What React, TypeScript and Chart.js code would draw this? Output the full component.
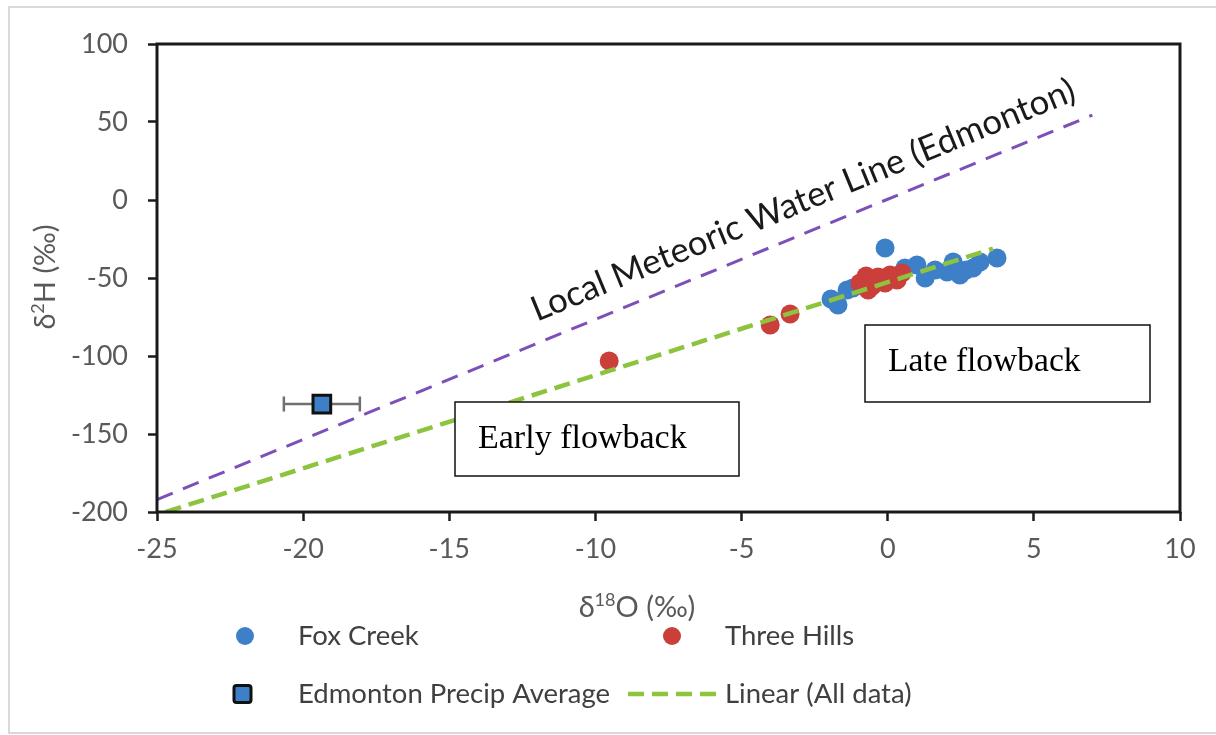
import React, { useEffect, useRef } from "react";
import { Chart, registerables } from "chart.js";

Chart.register(...registerables);

// ---- data ----
const foxCreekX = [-0.09, -1.94, -1.7, -1.19, -1.39, 1.0, 1.28, 1.62, 2.03, 2.24, 2.47, 2.68, 2.92, 3.16, 3.74, 0.59];
const foxCreekY = [-30.8, -63.5, -67.3, -56.4, -57.7, -41.7, -50.0, -44.9, -46.2, -39.7, -48.1, -44.9, -43.6, -39.7, -37.2, -43.6];

const threeHillsX = [-9.53, -4.02, -3.34, -0.95, -0.74, -0.53, -0.33, -0.09, 0.08, 0.32, 0.49, -0.67];
const threeHillsY = [-103.2, -80.1, -73.1, -53.2, -48.7, -55.1, -49.4, -53.2, -48.1, -51.3, -46.8, -57.7];

const edmontonX = [-19.36];
const edmontonY = [-130.8];
const edmontonXErr = [1.3];

const trendX = [-24.7, 3.6];
const trendY = [-200, -31.2];

const lmwlX = [-25, 7];
const lmwlY = [-192, 54.4];

const xTicks = [-25, -20, -15, -10, -5, 0, 5, 10];
const yTicks = [-200, -150, -100, -50, 0, 50, 100];

const seriesNames = ["Fox Creek", "Three Hills", "Edmonton Precip Average", "Linear (All data)"];
const lmwlLabel = "Local Meteoric Water Line (Edmonton)";
const earlyLabel = "Early flowback";
const lateLabel = "Late flowback";

// ---- styles ----
const BLUE = "#3e80c8";
const RED = "#cb3f3b";
const GREEN = "#8cc43f";
const PURPLE = "#7b50b8";
const AXIS_TEXT = "#595959";
const SANS = "Lato, 'Open Sans', sans-serif";
const SERIF = "'Liberation Serif', 'Times New Roman', serif";

const pts = (xs: number[], ys: number[]) => xs.map((x, i) => ({ x, y: ys[i] }));

function drawSupText(
  ctx: CanvasRenderingContext2D,
  parts: { t: string; sup?: boolean }[],
  cx: number,
  cy: number,
  size: number
) {
  const supSize = Math.round(size * 0.62);
  let w = 0;
  const widths = parts.map((p) => {
    ctx.font = `${p.sup ? supSize : size}px ${SANS}`;
    const m = ctx.measureText(p.t).width;
    w += m;
    return m;
  });
  let x = cx - w / 2;
  ctx.textBaseline = "alphabetic";
  ctx.textAlign = "left";
  const base = cy + size * 0.35;
  parts.forEach((p, i) => {
    ctx.font = `${p.sup ? supSize : size}px ${SANS}`;
    ctx.fillText(p.t, x, p.sup ? base - size * 0.38 : base);
    x += widths[i];
  });
}

function roundRect(ctx: CanvasRenderingContext2D, x: number, y: number, w: number, h: number, r: number) {
  ctx.beginPath();
  ctx.moveTo(x + r, y);
  ctx.lineTo(x + w - r, y);
  ctx.quadraticCurveTo(x + w, y, x + w, y + r);
  ctx.lineTo(x + w, y + h - r);
  ctx.quadraticCurveTo(x + w, y + h, x + w - r, y + h);
  ctx.lineTo(x + r, y + h);
  ctx.quadraticCurveTo(x, y + h, x, y + h - r);
  ctx.lineTo(x, y + r);
  ctx.quadraticCurveTo(x, y, x + r, y);
  ctx.closePath();
}

const decorPlugin = {
  id: "decor",
  beforeDraw(chart: any) {
    const ctx = chart.ctx as CanvasRenderingContext2D;
    ctx.save();
    ctx.fillStyle = "#ffffff";
    ctx.fillRect(0, 0, chart.width, chart.height);
    ctx.strokeStyle = "#d9d9d9";
    ctx.lineWidth = 2;
    ctx.strokeRect(9, 7, chart.width + 20, chart.height - 9);
    ctx.restore();
  },
  beforeDatasetsDraw(chart: any) {
    const ctx = chart.ctx as CanvasRenderingContext2D;
    const xs = chart.scales.x;
    const ys = chart.scales.y;
    ctx.save();
    ctx.strokeStyle = "#707070";
    ctx.lineWidth = 2.5;
    edmontonX.forEach((x, i) => {
      const x1 = xs.getPixelForValue(x - edmontonXErr[i]);
      const x2 = xs.getPixelForValue(x + edmontonXErr[i]);
      const py = ys.getPixelForValue(edmontonY[i]);
      ctx.beginPath();
      ctx.moveTo(x1, py);
      ctx.lineTo(x2, py);
      ctx.moveTo(x1, py - 7.5);
      ctx.lineTo(x1, py + 7.5);
      ctx.moveTo(x2, py - 7.5);
      ctx.lineTo(x2, py + 7.5);
      ctx.stroke();
    });
    ctx.restore();
  },
  afterDraw(chart: any) {
    const ctx = chart.ctx as CanvasRenderingContext2D;
    const { left, right, top, bottom } = chart.chartArea;
    const xs = chart.scales.x;
    const ys = chart.scales.y;
    ctx.save();

    // plot frame
    ctx.strokeStyle = "#1a1a1a";
    ctx.lineWidth = 3;
    ctx.strokeRect(left, top, right - left, bottom - top);

    // rotated LMWL label
    const lx1 = xs.getPixelForValue(lmwlX[0]);
    const ly1 = ys.getPixelForValue(lmwlY[0]);
    const lx2 = xs.getPixelForValue(lmwlX[1]);
    const ly2 = ys.getPixelForValue(lmwlY[1]);
    const ang = Math.atan2(ly2 - ly1, lx2 - lx1);
    const ax = 815;
    const t = (ax - lx1) / (lx2 - lx1);
    const ay = ly1 + t * (ly2 - ly1);
    const off = 20;
    const px = ax + off * Math.sin(ang);
    const py = ay - off * Math.cos(ang);
    ctx.font = `28px ${SANS}`;
    const w0 = ctx.measureText(lmwlLabel).width;
    const fs = 28 * (585 / w0);
    ctx.font = `${fs.toFixed(1)}px ${SANS}`;
    ctx.translate(px, py);
    ctx.rotate(ang);
    ctx.fillStyle = "#1a1a1a";
    ctx.textAlign = "center";
    ctx.textBaseline = "alphabetic";
    ctx.fillText(lmwlLabel, 0, 0);
    ctx.setTransform(1, 0, 0, 1, 0, 0);

    // annotation boxes
    const boxes = [
      { label: earlyLabel, x: 455, y: 402, w: 284, h: 74, size: 34 },
      { label: lateLabel, x: 865, y: 325, w: 285, h: 77, size: 33.5 },
    ];
    boxes.forEach((b) => {
      ctx.fillStyle = "#ffffff";
      ctx.fillRect(b.x, b.y, b.w, b.h);
      ctx.strokeStyle = "#111111";
      ctx.lineWidth = 1.5;
      ctx.strokeRect(b.x, b.y, b.w, b.h);
      ctx.fillStyle = "#000000";
      ctx.font = `${b.size}px ${SERIF}`;
      ctx.textAlign = "left";
      ctx.textBaseline = "alphabetic";
      ctx.fillText(b.label, b.x + 23, b.y + 46);
    });

    // axis titles
    ctx.fillStyle = AXIS_TEXT;
    drawSupText(ctx, [{ t: "δ" }, { t: "18", sup: true }, { t: "O (‰)" }], 637, 607, 29);
    ctx.translate(45, 277);
    ctx.rotate(-Math.PI / 2);
    drawSupText(ctx, [{ t: "δ" }, { t: "2", sup: true }, { t: "H (‰)" }], 0, 0, 29);
    ctx.setTransform(1, 0, 0, 1, 0, 0);

    // legend
    ctx.font = `27.5px ${SANS}`;
    ctx.textAlign = "left";
    ctx.textBaseline = "middle";
    const row1 = 636;
    const row2 = 694;
    // Fox Creek
    ctx.fillStyle = BLUE;
    ctx.beginPath();
    ctx.arc(245, row1, 9, 0, Math.PI * 2);
    ctx.fill();
    ctx.fillStyle = "#404040";
    ctx.fillText(seriesNames[0], 298, row1);
    // Three Hills
    ctx.fillStyle = RED;
    ctx.beginPath();
    ctx.arc(672, row1, 9, 0, Math.PI * 2);
    ctx.fill();
    ctx.fillStyle = "#404040";
    ctx.fillText(seriesNames[1], 725, row1);
    // Edmonton
    roundRect(ctx, 234, row2 - 8.5, 17, 17, 2.5);
    ctx.fillStyle = BLUE;
    ctx.fill();
    ctx.strokeStyle = "#111111";
    ctx.lineWidth = 3;
    ctx.stroke();
    ctx.fillStyle = "#404040";
    ctx.fillText(seriesNames[2], 298, row2);
    // Linear
    ctx.strokeStyle = GREEN;
    ctx.lineWidth = 4.5;
    ctx.setLineDash([16, 8]);
    ctx.beginPath();
    ctx.moveTo(628, row2);
    ctx.lineTo(722, row2);
    ctx.stroke();
    ctx.setLineDash([]);
    ctx.fillText(seriesNames[3], 725, row2);

    ctx.restore();
  },
};

export default function App() {
  const ref = useRef<HTMLCanvasElement>(null);

  useEffect(() => {
    if (!ref.current) return;
    const chart = new Chart(ref.current, {
      type: "scatter",
      data: {
        datasets: [
          {
            type: "line",
            label: seriesNames[3],
            data: pts(trendX, trendY),
            borderColor: GREEN,
            borderWidth: 4.5,
            borderDash: [16, 8],
            pointRadius: 0,
            showLine: true,
            fill: false,
            order: 0,
          } as any,
          {
            type: "line",
            label: lmwlLabel,
            data: pts(lmwlX, lmwlY),
            borderColor: PURPLE,
            borderWidth: 3,
            borderDash: [17, 11],
            pointRadius: 0,
            showLine: true,
            fill: false,
            order: 0,
          } as any,
          {
            label: seriesNames[2],
            data: pts(edmontonX, edmontonY),
            pointStyle: "rect",
            pointRadius: 12.5,
            backgroundColor: BLUE,
            borderColor: "#111111",
            borderWidth: 3,
            order: 1,
          },
          {
            label: seriesNames[1],
            data: pts(threeHillsX, threeHillsY),
            pointRadius: 9.5,
            backgroundColor: RED,
            borderColor: RED,
            borderWidth: 0,
            order: 2,
          },
          {
            label: seriesNames[0],
            data: pts(foxCreekX, foxCreekY),
            pointRadius: 9.5,
            backgroundColor: BLUE,
            borderColor: BLUE,
            borderWidth: 0,
            order: 3,
          },
        ],
      },
      options: {
        responsive: false,
        animation: false,
        layout: { padding: { left: 0, top: 44, right: 36, bottom: 113 } },
        plugins: { legend: { display: false }, tooltip: { enabled: false } },
        scales: {
          x: {
            type: "linear",
            min: xTicks[0],
            max: xTicks[xTicks.length - 1],
            afterBuildTicks: (s: any) => {
              s.ticks = xTicks.map((v) => ({ value: v }));
            },
            ticks: {
              font: { family: SANS, size: 27 },
              color: AXIS_TEXT,
              padding: 12,
              autoSkip: false,
              maxRotation: 0,
            },
            grid: {
              drawOnChartArea: false,
              drawTicks: true,
              tickLength: 9,
              tickWidth: 2.5,
              tickColor: "#1a1a1a",
            },
            border: { display: false },
            afterFit: (s: any) => {
              s.height = 110;
              s.paddingLeft = 0;
              s.paddingRight = 0;
            },
          },
          y: {
            type: "linear",
            min: yTicks[0],
            max: yTicks[yTicks.length - 1],
            afterBuildTicks: (s: any) => {
              s.ticks = yTicks.map((v) => ({ value: v }));
            },
            ticks: {
              font: { family: SANS, size: 27 },
              color: AXIS_TEXT,
              padding: 20,
              autoSkip: false,
            },
            grid: {
              drawOnChartArea: false,
              drawTicks: true,
              tickLength: 9,
              tickWidth: 2.5,
              tickColor: "#1a1a1a",
            },
            border: { display: false },
            afterFit: (s: any) => {
              s.width = 157;
              s.paddingTop = 0;
              s.paddingBottom = 0;
            },
          },
        },
      },
      plugins: [decorPlugin],
    });
    return () => chart.destroy();
  }, []);

  return (
    <div style={{ position: "absolute", left: 0, top: 0, width: 1216, height: 735, background: "#fff" }}>
      <canvas ref={ref} width={1216} height={735} style={{ display: "block" }} />
    </div>
  );
}
